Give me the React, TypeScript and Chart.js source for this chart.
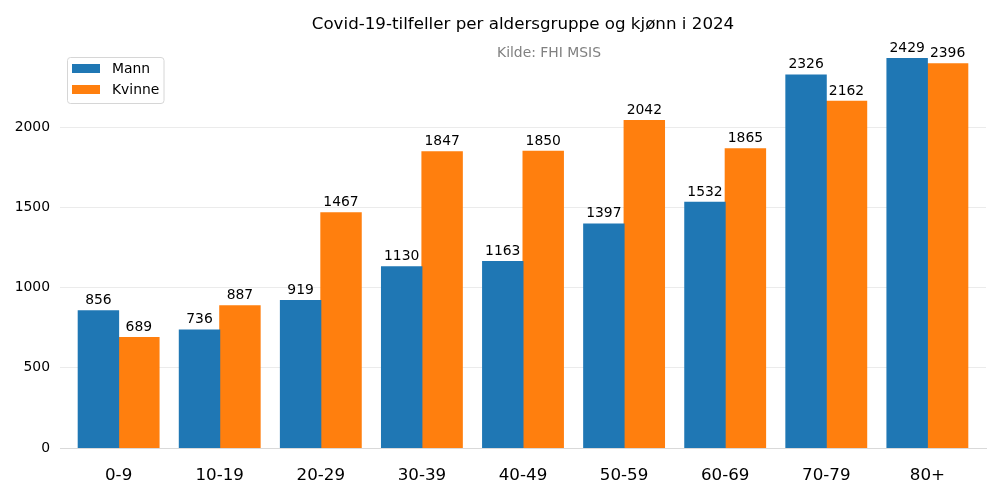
import React, { useEffect, useRef } from "react";
import { Chart, registerables } from "chart.js";

Chart.register(...registerables);

const categories = ["0-9", "10-19", "20-29", "30-39", "40-49", "50-59", "60-69", "70-79", "80+"];
const mannValues = [856, 736, 919, 1130, 1163, 1397, 1532, 2326, 2429];
const kvinneValues = [689, 887, 1467, 1847, 1850, 2042, 1865, 2162, 2396];
const yTicks = [0, 500, 1000, 1500, 2000];
const seriesNames = ["Mann", "Kvinne"];
const seriesColors = ["#1f77b4", "#ff7f0e"];
const titleText = "Covid-19-tilfeller per aldersgruppe og kjønn i 2024";
const subtitleText = "Kilde: FHI MSIS";

const FONT = "'DejaVu Sans', sans-serif";

const labelsPlugin = {
  id: "barLabels",
  afterDatasetsDraw(chart: any) {
    const ctx = chart.ctx;
    ctx.save();
    ctx.font = `13.9px ${FONT}`;
    ctx.fillStyle = "#000";
    ctx.textAlign = "center";
    ctx.textBaseline = "alphabetic";
    chart.data.datasets.forEach((ds: any, di: number) => {
      const meta = chart.getDatasetMeta(di);
      meta.data.forEach((el: any, i: number) => {
        const v = ds.data[i].y;
        ctx.fillText(String(v), el.x, el.y - 6.5);
      });
    });
    ctx.restore();
  },
};

const decorPlugin = {
  id: "decor",
  afterDraw(chart: any) {
    const ctx = chart.ctx;
    const ca = chart.chartArea;
    ctx.save();
    // title
    ctx.font = `16.7px ${FONT}`;
    ctx.fillStyle = "#000";
    ctx.textAlign = "center";
    ctx.textBaseline = "alphabetic";
    ctx.fillText(titleText, (ca.left + ca.right) / 2, 28.5);
    // subtitle
    ctx.font = `13.9px ${FONT}`;
    ctx.fillStyle = "#808080";
    ctx.fillText(subtitleText, 549, 57);
    // legend
    const bx = ca.left + 7.5, by = 57.5, bw = 96.5, bh = 46;
    ctx.beginPath();
    const r = 3;
    ctx.moveTo(bx + r, by);
    ctx.lineTo(bx + bw - r, by);
    ctx.quadraticCurveTo(bx + bw, by, bx + bw, by + r);
    ctx.lineTo(bx + bw, by + bh - r);
    ctx.quadraticCurveTo(bx + bw, by + bh, bx + bw - r, by + bh);
    ctx.lineTo(bx + r, by + bh);
    ctx.quadraticCurveTo(bx, by + bh, bx, by + bh - r);
    ctx.lineTo(bx, by + r);
    ctx.quadraticCurveTo(bx, by, bx + r, by);
    ctx.closePath();
    ctx.fillStyle = "rgba(255,255,255,0.8)";
    ctx.fill();
    ctx.strokeStyle = "#d6d6d6";
    ctx.lineWidth = 1;
    ctx.stroke();
    ctx.font = `13.9px ${FONT}`;
    ctx.textAlign = "left";
    ctx.textBaseline = "middle";
    seriesNames.forEach((name, i) => {
      const cy = 68.5 + i * 21;
      ctx.fillStyle = seriesColors[i];
      ctx.fillRect(72, cy - 4.5, 28, 9);
      ctx.fillStyle = "#000";
      ctx.fillText(name, 112, cy + 0.5);
    });
    ctx.restore();
  },
};

export default function App() {
  const ref = useRef<HTMLCanvasElement>(null);
  useEffect(() => {
    document.body.style.margin = "0";
    const canvas = ref.current!;
    const chart = new Chart(canvas, {
      type: "bar",
      data: {
        datasets: [
          {
            label: seriesNames[0],
            data: mannValues.map((v, i) => ({ x: i, y: v })),
            backgroundColor: seriesColors[0],
            categoryPercentage: 0.8,
            barPercentage: 1.0,
            borderWidth: 0,
            inflateAmount: 0.5,
          },
          {
            label: seriesNames[1],
            data: kvinneValues.map((v, i) => ({ x: i, y: v })),
            backgroundColor: seriesColors[1],
            categoryPercentage: 0.8,
            barPercentage: 1.0,
            borderWidth: 0,
            inflateAmount: 0.5,
          },
        ],
      },
      options: {
        responsive: false,
        animation: false,
        layout: { padding: { top: 47, right: 14, left: 0, bottom: 0 } },
        plugins: {
          legend: { display: false },
          title: { display: false },
          tooltip: { enabled: false },
        },
        scales: {
          x: {
            type: "linear",
            min: -0.58,
            max: 8.58,
            offset: false,
            afterBuildTicks: (axis: any) => {
              axis.ticks = categories.map((_, i) => ({ value: i }));
            },
            afterFit: (scale: any) => {
              scale.height = 52;
            },
            grid: { display: false, drawTicks: false },
            border: { display: true, color: "#d9d9d9", width: 1 },
            ticks: {
              autoSkip: false,
              maxRotation: 0,
              padding: 18,
              color: "#000",
              font: { family: FONT, size: 16.7 },
              callback: (v: any) => categories[v] ?? "",
            },
          },
          y: {
            min: 0,
            max: 2500,
            afterBuildTicks: (axis: any) => {
              axis.ticks = yTicks.map((v) => ({ value: v }));
            },
            afterFit: (scale: any) => {
              scale.width = 60;
            },
            grid: { color: "#ebebeb", lineWidth: 1, drawTicks: false },
            border: { display: false },
            ticks: {
              padding: 10,
              color: "#000",
              font: { family: FONT, size: 13.9 },
              callback: (v: any) => String(v),
            },
          },
        },
      },
      plugins: [labelsPlugin, decorPlugin],
    } as any);
    return () => chart.destroy();
  }, []);
  return (
    <div style={{ position: "absolute", left: 0, top: 0, width: 1000, height: 500 }}>
      <canvas ref={ref} width={1000} height={500} />
    </div>
  );
}
